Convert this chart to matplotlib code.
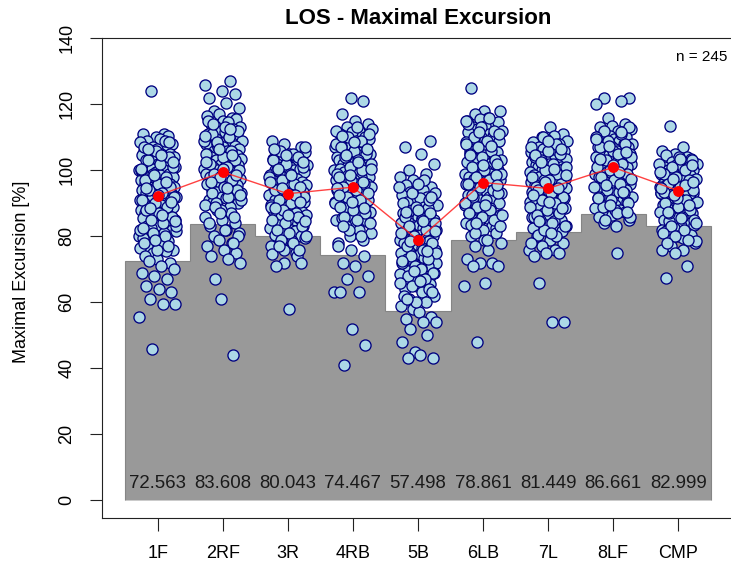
import numpy as np
import matplotlib
matplotlib.use("Agg")
import matplotlib.pyplot as plt

plt.rcParams['font.family'] = ['Liberation Sans', 'DejaVu Sans']

# ---- data -------------------------------------------------------------
categories = ["1F", "2RF", "3R", "4RB", "5B", "6LB", "7L", "8LF", "CMP"]
bar_values = [72.563, 83.608, 80.043, 74.467, 57.498, 78.861, 81.449, 86.661, 82.999]
means = [92.3, 99.5, 92.9, 94.9, 78.9, 96.3, 94.5, 100.9, 93.8]
n_label = "n = 245"

pts_1F = [124, 111, 111, 110, 110.5, 109, 109.5, 108, 108.5, 107, 107.5, 106, 106.5, 105, 105.5,
          105, 104, 104.5, 103, 103.5, 103, 102, 102.5, 101, 101.5, 101, 100, 100.5, 100, 99,
          99.5, 99, 98, 98.5, 98, 97, 97.5, 97, 96, 96.5, 96, 95, 95.5, 95, 94, 94.5, 94, 93,
          93.5, 93, 92, 92.5, 92, 91, 91.5, 91, 90, 90.5, 90, 89, 89.5, 89, 88, 88.5, 88, 87,
          87.5, 86, 86.5, 86, 85, 85.5, 84, 84.5, 83, 83.5, 82, 82.5, 81, 81.5, 80, 80.5, 79,
          79.5, 78, 78.5, 77, 77.5, 76, 76.5, 75, 75.5, 74, 73, 72, 72.5, 71, 70, 69, 68, 67,
          65, 64, 63, 61, 59.5, 59.5, 55.5, 46,
          109, 107, 106, 104, 103, 102, 101, 100, 99, 98, 97, 96, 95, 94, 93, 92, 91, 90, 89,
          88, 87, 86, 85, 84, 83, 82, 81, 80, 78, 76, 108.5, 106.5, 104.5, 102.5, 100.5, 98.5,
          96.5, 94.5, 92.5, 90.5, 88.5, 86.5, 84.5, 82.5, 79, 77]
pts_2RF = [127, 126, 124, 123, 122, 120.5, 119, 118, 117, 116, 116.5, 115, 115.5, 114, 114.5,
           113, 113.5, 112, 112.5, 111, 111.5, 110, 110.5, 110, 109, 109.5, 108, 108.5, 108,
           107, 107.5, 107, 106, 106.5, 106, 105, 105.5, 105, 104, 104.5, 104, 103, 103.5, 103,
           102, 102.5, 102, 101, 101.5, 101, 100, 100.5, 100, 99, 99.5, 99, 98, 98.5, 98, 97,
           97.5, 97, 96, 96.5, 96, 95, 95.5, 94, 94.5, 93, 93.5, 92, 92.5, 91, 91.5, 90, 90.5,
           89, 89.5, 88, 88.5, 87, 86, 85, 84, 83, 82, 81, 80, 79, 78, 77, 76, 75, 74, 73, 72,
           67, 61, 44,
           115, 113, 112, 111, 110, 109, 108, 107, 106, 105, 104, 103, 102, 101, 100, 99, 98,
           97, 96, 95, 94, 93, 92, 91, 90, 88, 86, 84, 82, 80, 114, 112.5, 110.5, 108.5, 106.5,
           104.5, 102.5, 100.5, 98.5, 96.5, 94.5, 92.5, 89, 87, 78]
pts_3R = [109, 108, 107, 106, 105, 105.5, 104, 104.5, 103, 103.5, 102, 102.5, 102, 101, 101.5,
          101, 100, 100.5, 100, 99, 99.5, 99, 98, 98.5, 98, 97, 97.5, 97, 96, 96.5, 96, 95, 95.5,
          95, 94, 94.5, 94, 93, 93.5, 93, 92, 92.5, 92, 91, 91.5, 91, 90, 90.5, 90, 89, 89.5, 89,
          88, 88.5, 88, 87, 87.5, 87, 86, 86.5, 86, 85, 85.5, 84, 84.5, 83, 83.5, 82, 82.5, 81,
          81.5, 80, 80.5, 79, 79.5, 78, 78.5, 77, 76, 75, 74, 74.5, 72, 72, 71, 58,
          107, 106, 105, 104, 103, 102, 101, 100, 99, 98, 97, 96, 95, 94, 93, 92, 91, 90, 89,
          88, 87, 86, 85, 84, 83, 82, 81, 80, 79, 78, 76, 106.5, 104.5, 102.5, 100.5, 98.5,
          96.5, 94.5, 92.5, 90.5, 88.5, 86.5, 84.5, 77]
pts_4RB = [122, 121, 117, 115, 114, 113, 112, 112.5, 111, 111.5, 110, 110.5, 109, 109.5, 108,
           108.5, 107, 107.5, 106, 106.5, 105, 105.5, 105, 104, 104.5, 104, 103, 103.5, 103, 102,
           102.5, 102, 101, 101.5, 100, 100.5, 100, 99, 99.5, 99, 98, 98.5, 98, 97, 97.5, 97, 96,
           96.5, 96, 95, 95.5, 95, 94, 94.5, 93, 93.5, 92, 92.5, 91, 91.5, 90, 90.5, 89, 89.5,
           88, 88.5, 87, 87.5, 86, 86.5, 85, 85.5, 84, 84.5, 83, 82, 81, 80, 79, 78, 77, 76, 74,
           72, 71, 68, 67, 63, 63, 63, 52, 47, 41,
           113, 111, 110, 109, 108, 107, 106, 105, 104, 103, 102, 101, 100, 99, 98, 97, 96, 95,
           94, 93, 92, 91, 90, 89, 88, 87, 86, 85, 84, 82, 80, 112, 110.5, 108.5, 106.5, 104.5,
           102.5, 100.5, 98.5, 96.5, 94.5, 92.5, 90.5, 88.5, 83]
pts_5B = [109, 107, 105, 102, 100, 99, 98, 97, 96, 95, 95.5, 94, 93, 93.5, 92, 92.5, 91, 91.5,
          90, 90.5, 89, 89.5, 88, 88.5, 87, 87.5, 86, 86.5, 85, 85.5, 85, 84, 84.5, 84, 83, 83.5,
          83, 82, 82.5, 82, 81, 81.5, 81, 80, 80.5, 80, 79, 79.5, 79, 78, 78.5, 78, 77, 77.5, 77,
          76, 76.5, 76, 75, 75.5, 75, 74, 74.5, 74, 73, 73.5, 72, 72.5, 71, 71.5, 70, 70.5, 69,
          69.5, 68, 68.5, 67, 67.5, 66, 66.5, 65, 65.5, 64, 63, 62, 61, 60, 59, 58, 57, 55.5, 55,
          54, 54, 52, 50, 48, 45, 44, 43, 43,
          97, 95, 93, 91, 90, 89, 88, 87, 86, 85, 84, 83, 82, 81, 80, 79, 78, 77, 76, 75, 74,
          73, 72, 71, 70, 69, 68, 67, 66, 65, 64, 62, 60, 96, 92, 87.5, 84.5, 81.5, 78.5, 75.5,
          72.5, 69.5, 66.5, 63, 61]
pts_6LB = [125, 118, 118, 117, 116, 115, 115.5, 114, 114.5, 113, 113.5, 112, 112.5, 111, 111.5,
           110, 110.5, 109, 109.5, 108, 108.5, 107, 107.5, 106, 106.5, 105, 105.5, 104, 104.5,
           103, 103.5, 102, 102.5, 101, 101.5, 100, 100.5, 100, 99, 99.5, 99, 98, 98.5, 98, 97,
           97.5, 97, 96, 96.5, 96, 95, 95.5, 95, 94, 94.5, 94, 93, 93.5, 92, 92.5, 91, 91.5, 90,
           90.5, 89, 89.5, 88, 88.5, 87, 87.5, 86, 86.5, 85, 85.5, 84, 84.5, 83, 83.5, 82, 82.5,
           81, 80, 79, 78, 77, 76, 73, 72, 72, 71, 71, 66, 65, 48,
           116, 114, 113, 112, 111, 110, 109, 108, 107, 106, 105, 104, 103, 102, 101, 100, 99,
           98, 97, 96, 95, 94, 93, 92, 91, 90, 89, 88, 87, 86, 85, 83, 81, 79, 115, 111.5,
           107.5, 104.5, 101.5, 98.5, 95.5, 92.5, 89.5, 86.5, 84]
pts_7L = [113, 111, 110, 110.5, 109, 109.5, 108, 108.5, 107, 107.5, 106, 106.5, 105, 105.5, 105,
          104, 104.5, 104, 103, 103.5, 103, 102, 102.5, 102, 101, 101.5, 101, 100, 100.5, 100,
          99, 99.5, 99, 98, 98.5, 98, 97, 97.5, 97, 96, 96.5, 96, 95, 95.5, 95, 94, 94.5, 94, 93,
          93.5, 93, 92, 92.5, 92, 91, 91.5, 91, 90, 90.5, 90, 89, 89.5, 89, 88, 88.5, 87, 87.5,
          86, 86.5, 85, 85.5, 84, 84.5, 83, 83.5, 82, 82.5, 81, 81.5, 80, 80.5, 79, 78, 77, 76,
          76, 75, 75, 74, 66, 54, 54,
          110, 108, 107, 106, 105, 104, 103, 102, 101, 100, 99, 98, 97, 96, 95, 94, 93, 92, 91,
          90, 89, 88, 87, 86, 85, 84, 83, 82, 80, 78, 109, 106.5, 104.5, 102.5, 100.5, 98.5,
          96.5, 94.5, 92.5, 90.5, 88.5, 86.5, 84.5, 81]
pts_8LF = [122, 122, 121, 120, 116, 114, 113, 113.5, 112, 112.5, 111, 111.5, 110, 110.5, 110,
           109, 109.5, 109, 108, 108.5, 108, 107, 107.5, 107, 106, 106.5, 106, 105, 105.5, 105,
           104, 104.5, 104, 103, 103.5, 103, 102, 102.5, 102, 101, 101.5, 101, 100, 100.5, 100,
           99, 99.5, 99, 98, 98.5, 98, 97, 97.5, 97, 96, 96.5, 96, 95, 95.5, 94, 94.5, 93, 93.5,
           92, 92.5, 91, 91.5, 90, 90.5, 89, 89.5, 88, 88.5, 87, 87.5, 86, 86.5, 85, 84, 83, 75,
           113, 112, 111, 110, 109, 108, 107, 106, 105, 104, 103, 102, 101, 100, 99, 98, 97, 96,
           95, 94, 93, 92, 91, 90, 89, 88, 87, 86, 85, 111.5, 109.5, 107.5, 105.5, 103.5, 101.5,
           99.5, 97.5, 95.5, 93.5, 91.5, 89.5, 87.5]
pts_CMP = [113.5, 107, 106, 105, 104, 104.5, 103, 103.5, 102, 102.5, 102, 101, 101.5, 101, 100,
           100.5, 100, 99, 99.5, 99, 99, 98, 98.5, 98, 98, 97, 97.5, 97, 97, 96, 96.5, 96, 96,
           95, 95.5, 95, 95, 94, 94.5, 94, 94, 93, 93.5, 93, 93, 92, 92.5, 92, 92, 91, 91.5, 91,
           90, 90.5, 90, 89, 89.5, 89, 88, 88.5, 88, 87, 87.5, 86, 86.5, 85, 85.5, 84, 84.5, 83,
           83.5, 82, 82.5, 81, 81.5, 80, 80.5, 79, 79.5, 78, 78.5, 77, 76, 76, 75, 71, 67.5,
           104, 103, 102, 101, 100, 99, 98, 97, 96, 95, 94, 93, 92, 91, 90, 89, 88, 87, 86, 85,
           84, 83, 82, 81, 80, 79, 78, 103.5, 101.5, 99.5, 97.5, 95.5, 93.5, 91.5, 89.5, 87.5,
           85.5, 96.5, 94.5, 92.5]

points = [pts_1F, pts_2RF, pts_3R, pts_4RB, pts_5B, pts_6LB, pts_7L, pts_8LF, pts_CMP]


def radical_inverse(k, base):
    """Van der Corput radical inverse of integer k in the given base."""
    inv, f = 0.0, 1.0 / base
    while k > 0:
        k, d = divmod(k, base)
        inv += d * f
        f /= base
    return inv


# ---- figure -----------------------------------------------------------
W, H = 731, 565
fig = plt.figure(figsize=(W / 100, H / 100), dpi=100)
ax = fig.add_axes([102 / W, (H - 517.7) / H, (734 - 102) / W, (517.7 - 38.3) / H])
ax.set_xlim(0.144, 9.856)
ax.set_ylim(-5.27, 140)

x = np.arange(1, len(categories) + 1)
edges = np.arange(0.5, len(categories) + 1.0, 1.0)

# stepped grey background bars
ax.stairs(bar_values, edges, baseline=0, fill=True, facecolor="#999999",
          edgecolor="#858585", linewidth=0.8, zorder=1)
for xi, v in zip(x, bar_values):
    ax.text(xi, 5, f"{v:.3f}", ha="center", va="center", fontsize=13.4,
            color="#1a1a1a", zorder=2)

# jittered individual observations (deterministic low-discrepancy spread)
for i, vals in enumerate(points):
    frac = np.array([(radical_inverse(k + 1, 3) + 0.37 * i) % 1.0
                     for k in range(len(vals))])
    off = (frac - 0.5) * 0.58
    ax.scatter(x[i] + off, vals, s=64, facecolor="#ADD8E6", edgecolor="#000080",
               linewidths=0.95, zorder=3)

# group means
ax.plot(x, means, color="#ff2020", lw=1.0, alpha=0.85, zorder=4)
ax.plot(x, means, "o", color="red", ms=6.8, mec="red", zorder=5)

# axes styling
for s in ax.spines.values():
    s.set_linewidth(0.8)
    s.set_color("#222222")
ax.set_yticks(range(0, 141, 20))
ax.set_xticks(x, categories)
ax.tick_params(axis="y", length=9, width=0.8, pad=10, labelsize=13, labelrotation=90,
               color="#222222")
for lab in ax.get_yticklabels():
    lab.set_va("center")
ax.tick_params(axis="x", length=9, width=0.8, pad=11, labelsize=13, color="#222222")

fig.text(418 / W, 1 - 19 / H, "LOS - Maximal Excursion", ha="center", va="center",
         fontsize=16, fontweight="bold")
fig.text(22 / W, 1 - 272 / H, "Maximal Excursion [%]", ha="center", va="center",
         rotation=90, fontsize=13)
fig.text(727 / W, 1 - 57 / H, n_label, ha="right", va="center", fontsize=11)

fig.savefig("out.png", dpi=100)
